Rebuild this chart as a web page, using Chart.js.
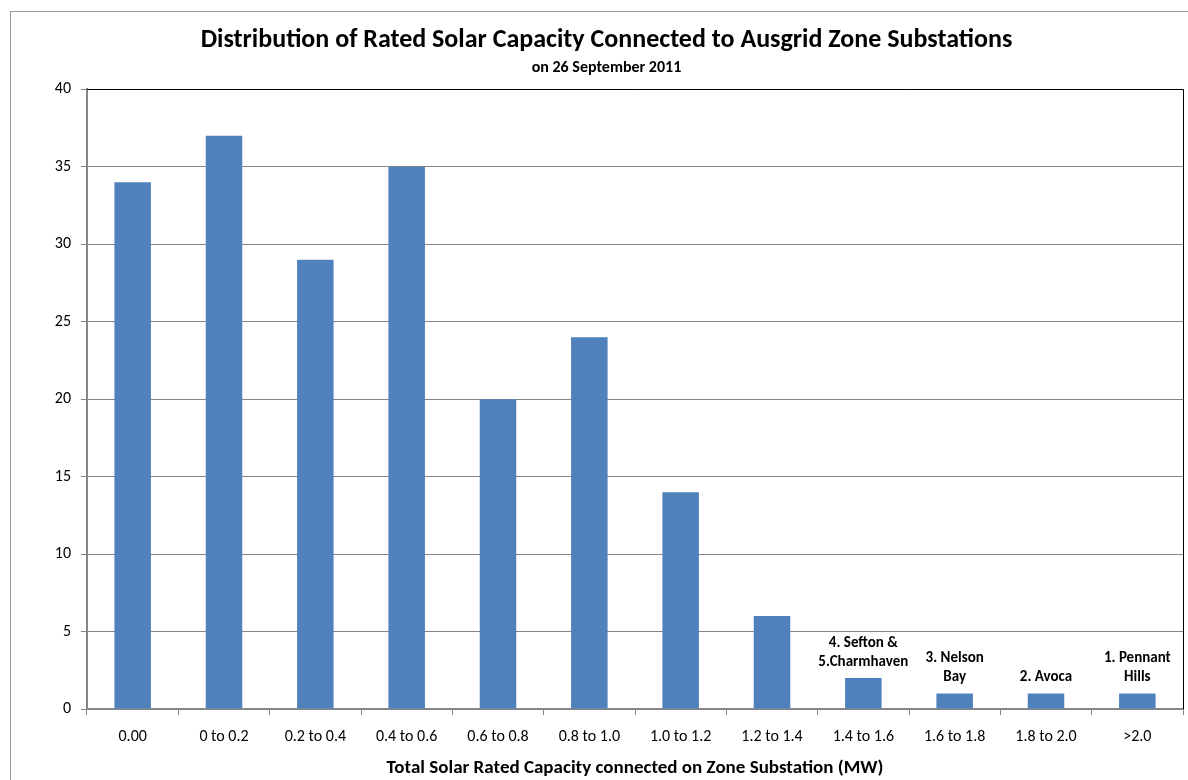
<!DOCTYPE html>
<html>
<head>
<meta charset="utf-8">
<script src="https://cdn.jsdelivr.net/npm/chart.js@4.4.0/dist/chart.umd.min.js"></script>
<style>
  html, body { margin: 0; padding: 0; background: #fff; }
  #wrap { width: 1188px; height: 780px; position: relative; }
</style>
</head>
<body>
<div id="wrap"><canvas id="solar-chart"></canvas></div>
<script>
// 数据
const categories = ['0.00', '0 to 0.2', '0.2 to 0.4', '0.4 to 0.6', '0.6 to 0.8', '0.8 to 1.0',
    '1.0 to 1.2', '1.2 to 1.4', '1.4 to 1.6', '1.6 to 1.8', '1.8 to 2.0', '>2.0'];
const substationCounts = [34, 37, 29, 35, 20, 24, 14, 6, 2, 1, 1, 1];
const barNotes = [null, null, null, null, null, null, null, null,
    ['4. Sefton &', '5.Charmhaven'], ['3. Nelson', 'Bay'], ['2. Avoca'], ['1. Pennant', 'Hills']];
const yTicks = [0, 5, 10, 15, 20, 25, 30, 35, 40];

const FONT = 'Calibri, Carlito, "Noto Sans", "Open Sans", sans-serif';
const axisGray = '#868686';

// 外框 + 绘图区上/右边线
const framePlugin = {
    id: 'frame',
    beforeDraw(chart) {
        const ctx = chart.ctx;
        ctx.save();
        ctx.fillStyle = '#fff';
        ctx.fillRect(0, 0, chart.width, chart.height);
        ctx.strokeStyle = '#9a9a9a';
        ctx.lineWidth = 1;
        ctx.strokeRect(10.5, 11.5, chart.width + 20, chart.height + 20);
        ctx.restore();
    },
    afterDraw(chart) {
        const a = chart.chartArea;
        const ctx = chart.ctx;
        ctx.save();
        ctx.strokeStyle = '#000';
        ctx.lineWidth = 1;
        ctx.beginPath();
        ctx.moveTo(a.left, Math.round(a.top) + 0.5);
        ctx.lineTo(Math.round(a.right) + 0.5, Math.round(a.top) + 0.5);
        ctx.lineTo(Math.round(a.right) + 0.5, a.bottom);
        ctx.stroke();
        ctx.restore();
    }
};

// 柱顶注释
const notePlugin = {
    id: 'barNotes',
    afterDatasetsDraw(chart) {
        const ctx = chart.ctx;
        const meta = chart.getDatasetMeta(0);
        ctx.save();
        ctx.font = 'bold 15px ' + FONT;
        ctx.fillStyle = '#000';
        ctx.textAlign = 'center';
        ctx.textBaseline = 'middle';
        meta.data.forEach((bar, i) => {
            const lines = barNotes[i];
            if (!lines) return;
            const lineH = 19;
            const lastY = bar.y - 16;
            lines.forEach((txt, j) => {
                ctx.fillText(txt, bar.x, lastY - (lines.length - 1 - j) * lineH);
            });
        });
        ctx.restore();
    }
};

const ctx = document.getElementById('solar-chart').getContext('2d');
new Chart(ctx, {
    type: 'bar',
    data: {
        labels: categories,
        datasets: [{
            label: 'Zone substations',
            data: substationCounts,
            backgroundColor: '#4F81BD',
            borderWidth: 0,
            barPercentage: 0.4,
            categoryPercentage: 1.0
        }]
    },
    options: {
        responsive: true,
        maintainAspectRatio: false,
        animation: false,
        layout: { padding: { top: 0, left: 30, right: 5, bottom: 0 } },
        plugins: {
            legend: { display: false },
            tooltip: { enabled: false },
            title: {
                display: true,
                text: 'Distribution of Rated Solar Capacity Connected to Ausgrid Zone Substations',
                color: '#000',
                font: { family: FONT, size: 26, weight: 'bold', lineHeight: 1.2 },
                padding: { top: 25, bottom: 2 }
            },
            subtitle: {
                display: true,
                text: 'on 26 September 2011',
                color: '#000',
                font: { family: FONT, size: 16, weight: 'bold', lineHeight: 1.2 },
                padding: { top: 0, bottom: 12 }
            }
        },
        scales: {
            x: {
                grid: {
                    offset: true,
                    drawOnChartArea: false,
                    drawTicks: true,
                    tickLength: 6,
                    tickColor: axisGray
                },
                border: { color: axisGray, width: 2 },
                ticks: {
                    color: '#000',
                    padding: 12,
                    maxRotation: 0,
                    autoSkip: false,
                    font: { family: FONT, size: 16 }
                },
                title: {
                    display: true,
                    text: 'Total Solar Rated Capacity connected on Zone Substation (MW)',
                    color: '#000',
                    font: { family: FONT, size: 19, weight: 'bold' },
                    padding: { top: 4, bottom: 0 }
                },
                afterFit(scale) { scale.height = 71; }
            },
            y: {
                min: 0,
                max: 40,
                afterBuildTicks(scale) { scale.ticks = yTicks.map(v => ({ value: v })); },
                grid: {
                    color: axisGray,
                    drawTicks: true,
                    tickLength: 6,
                    tickColor: axisGray
                },
                border: { color: axisGray, width: 2 },
                ticks: {
                    color: '#000',
                    padding: 10,
                    font: { family: FONT, size: 16 }
                },
                afterFit(scale) { scale.width = 57; }
            }
        }
    },
    plugins: [framePlugin, notePlugin]
});
</script>
</body>
</html>
